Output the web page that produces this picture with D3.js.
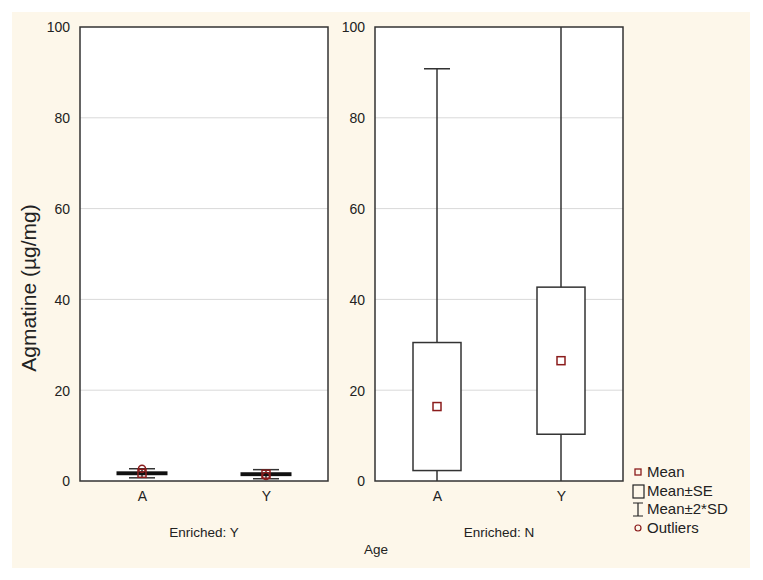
<!DOCTYPE html>
<html>
<head>
<meta charset="utf-8">
<script src="https://cdn.jsdelivr.net/npm/d3@7"></script>
<style>
  body { margin: 0; background: #fff; }
  text { font-family: "Liberation Sans", Arial, sans-serif; fill: #222; }
</style>
</head>
<body>
<div id="graph"></div>
<script>
// data
const panels = ["Enriched: Y", "Enriched: N"];
const ages = ["A", "Y"];
const means = [[1.7, 1.5], [16.4, 26.5]];
const ses = [[0.1, 0.1], [14.1, 16.2]];
const sds = [[0.5, 0.5], [37.2, 45]];
const outliers = [[[2.7], [1.1]], [[], []]];
const yTicks = [0, 20, 40, 60, 80, 100];
const legendLabels = ["Mean", "Mean±SE", "Mean±2*SD", "Outliers"];

const W = 763, H = 580;
const red = "#8b1c1c";
const frame = "#333";

const svg = d3.select("#graph").append("svg")
  .attr("width", W).attr("height", H);

svg.append("rect")
  .attr("x", 12).attr("y", 12)
  .attr("width", 738).attr("height", 556)
  .attr("fill", "#fdf7ea");

const yscale = d3.scaleLinear().domain([0, 100]).range([481, 27]);
const panelX = [80, 375];
const panelW = 248;
const boxW = 48, capW = 26;

panels.forEach(function(name, p) {
  const x0 = panelX[p];
  const xscale = d3.scalePoint()
    .domain(ages)
    .range([x0, x0 + panelW])
    .padding(0.5);
  const g = svg.append("g");

  g.append("rect")
    .attr("x", x0).attr("y", yscale(100))
    .attr("width", panelW).attr("height", yscale(0) - yscale(100))
    .attr("fill", "#fff");

  // grid
  g.selectAll(".grid").data(yTicks.slice(1, -1)).enter()
    .append("line")
    .attr("x1", x0).attr("x2", x0 + panelW)
    .attr("y1", d => yscale(d)).attr("y2", d => yscale(d))
    .attr("stroke", "#d9d9d9").attr("stroke-width", 1);

  // y axis labels
  const yAxis = d3.axisLeft(yscale).tickValues(yTicks).tickSize(0).tickPadding(10);
  const ax = g.append("g")
    .attr("transform", "translate(" + x0 + ",0)")
    .call(yAxis);
  ax.select(".domain").remove();
  ax.selectAll("text")
    .style("font-size", "14px")
    .attr("dy", "0.35em");

  // x axis labels
  const xAxis = d3.axisBottom(xscale).tickSize(0).tickPadding(10);
  const bx = g.append("g")
    .attr("transform", "translate(0," + yscale(0) + ")")
    .call(xAxis);
  bx.select(".domain").remove();
  bx.selectAll("text").style("font-size", "14px");

  g.append("text")
    .attr("x", x0 + panelW / 2).attr("y", 537)
    .attr("text-anchor", "middle")
    .style("font-size", "13.5px")
    .text(name);

  const clipId = "clip" + p;
  svg.append("clipPath").attr("id", clipId)
    .append("rect")
    .attr("x", x0).attr("y", yscale(100))
    .attr("width", panelW).attr("height", yscale(0) - yscale(100));

  const marks = g.append("g").attr("clip-path", "url(#" + clipId + ")");

  ages.forEach(function(a, i) {
    const cx = xscale(a);
    const m = means[p][i], se = ses[p][i], sd = sds[p][i];
    const hi = m + 2 * sd, lo = m - 2 * sd;
    const thin = (yscale(m - se) - yscale(m + se)) < 3;
    // whiskers
    marks.append("line")
      .attr("x1", cx).attr("x2", cx)
      .attr("y1", yscale(hi)).attr("y2", yscale(lo))
      .attr("stroke", frame).attr("stroke-width", 1.5);
    [hi, lo].forEach(function(v) {
      marks.append("line")
        .attr("x1", cx - capW / 2).attr("x2", cx + capW / 2)
        .attr("y1", yscale(v)).attr("y2", yscale(v))
        .attr("stroke", frame).attr("stroke-width", 1.5);
    });
    // box
    marks.append("rect")
      .attr("x", cx - boxW / 2)
      .attr("y", yscale(m + se))
      .attr("width", boxW)
      .attr("height", yscale(m - se) - yscale(m + se))
      .attr("fill", "#fff")
      .attr("stroke", thin ? "#111" : frame)
      .attr("stroke-width", thin ? 3 : 1.5);
    // mean
    marks.append("rect")
      .attr("x", cx - 4).attr("y", yscale(m) - 4)
      .attr("width", 8).attr("height", 8)
      .attr("fill", "none").attr("stroke", red).attr("stroke-width", 1.5);
    // outliers
    marks.selectAll(".out" + i).data(outliers[p][i]).enter()
      .append("circle")
      .attr("cx", cx).attr("cy", d => yscale(d))
      .attr("r", 3.5)
      .attr("fill", "none").attr("stroke", red).attr("stroke-width", 1.5);
  });

  g.append("rect")
    .attr("x", x0).attr("y", yscale(100))
    .attr("width", panelW).attr("height", yscale(0) - yscale(100))
    .attr("fill", "none").attr("stroke", frame).attr("stroke-width", 1.5);
});

// y title
svg.append("text")
  .attr("transform", "translate(36,288) rotate(-90)")
  .attr("text-anchor", "middle")
  .style("font-size", "21px")
  .text("Agmatine (µg/mg)");

svg.append("text")
  .attr("x", 376).attr("y", 554)
  .attr("text-anchor", "middle")
  .style("font-size", "13.5px")
  .text("Age");

// legend
const lg = svg.append("g").attr("transform", "translate(626,0)");
const legY = [472, 491, 509, 528];
legendLabels.forEach(function(t, i) {
  const y = legY[i];
  const gx = 12;
  if (i === 0) {
    lg.append("rect").attr("x", gx - 3).attr("y", y - 3).attr("width", 6).attr("height", 6)
      .attr("fill", "none").attr("stroke", red).attr("stroke-width", 1.3);
  } else if (i === 1) {
    lg.append("rect").attr("x", gx - 5).attr("y", y - 6).attr("width", 11).attr("height", 13)
      .attr("fill", "none").attr("stroke", "#222").attr("stroke-width", 1.2);
  } else if (i === 2) {
    lg.append("path")
      .attr("d", "M" + (gx - 5) + "," + (y - 6) + "H" + (gx + 5) +
        "M" + gx + "," + (y - 6) + "V" + (y + 7) +
        "M" + (gx - 5) + "," + (y + 7) + "H" + (gx + 5))
      .attr("fill", "none").attr("stroke", "#222").attr("stroke-width", 1.2);
  } else {
    lg.append("circle").attr("cx", gx).attr("cy", y).attr("r", 3)
      .attr("fill", "none").attr("stroke", red).attr("stroke-width", 1.2);
  }
  lg.append("text")
    .attr("x", gx + 9).attr("y", y)
    .attr("dy", "0.35em")
    .style("font-size", "15px")
    .text(t);
});
</script>
</body>
</html>
